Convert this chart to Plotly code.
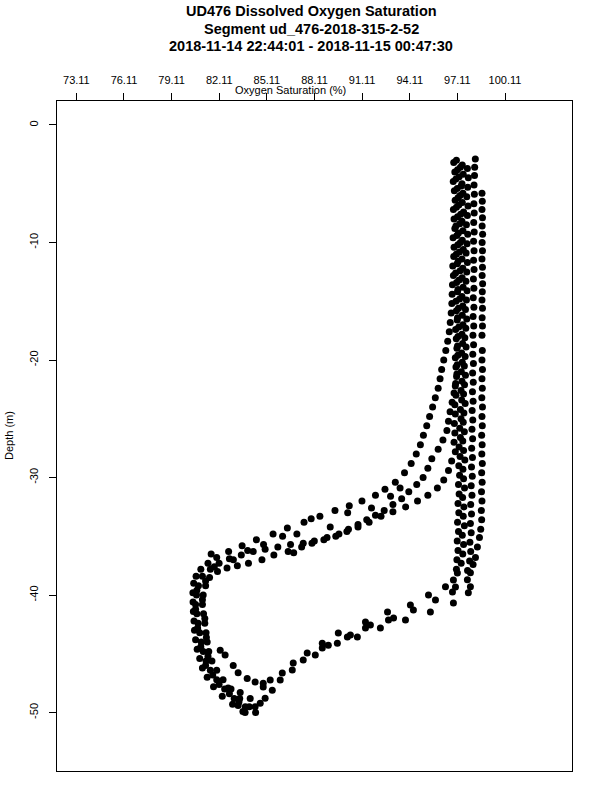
import plotly.graph_objects as go

# ---------------- data (depth m, oxygen saturation %) ----------------
x_tick_vals = [73.11, 76.11, 79.11, 82.11, 85.11, 88.11, 91.11, 94.11, 97.11, 100.11]
x_tick_text = ["73.11", "76.11", "79.11", "82.11", "85.11", "88.11", "91.11", "94.11", "97.11", "100.11"]
y_tick_vals = [0, -10, -20, -30, -40, -50]
y_tick_text = ["0", "-10", "-20", "-30", "-40", "-50"]

descent_a = [(-3.2, 96.88), (-4.0, 96.95), (-4.8, 96.85), (-5.6, 96.92), (-6.4, 96.97), (-7.2, 96.86),
             (-8.0, 96.90), (-8.8, 96.95), (-9.6, 96.84), (-10.4, 96.90), (-11.2, 96.88), (-12.0, 96.82),
             (-12.8, 96.86), (-13.6, 96.80), (-14.4, 96.78), (-15.2, 96.76), (-16.0, 96.72), (-16.8, 96.66),
             (-17.6, 96.60), (-18.4, 96.50), (-19.2, 96.38), (-20.0, 96.25), (-20.8, 96.12), (-21.6, 96.02),
             (-22.4, 95.90), (-23.2, 95.72), (-24.0, 95.55), (-24.8, 95.36), (-25.6, 95.18), (-26.4, 94.97),
             (-27.2, 94.78), (-28.0, 94.52), (-28.8, 94.20), (-29.6, 93.78), (-30.4, 93.20), (-31.0, 92.55),
             (-31.5, 91.95), (-32.0, 91.10), (-32.4, 90.30), (-32.8, 89.40), (-33.3, 88.45), (-33.8, 87.45),
             (-34.3, 86.40), (-34.8, 85.50), (-35.3, 84.45), (-35.8, 83.55), (-36.3, 82.70), (-36.8, 81.95),
             (-37.3, 81.40), (-37.8, 80.95), (-38.4, 80.65), (-39.0, 80.50), (-39.8, 80.45), (-40.6, 80.46),
             (-41.4, 80.48), (-42.2, 80.52), (-43.0, 80.55), (-43.8, 80.62), (-44.6, 80.72), (-45.4, 80.88),
             (-46.2, 81.05), (-47.0, 81.35), (-47.8, 81.75), (-48.6, 82.30), (-49.3, 82.95), (-49.9, 83.60)]

descent_b = [(-3.6, 97.30), (-4.4, 97.22), (-5.2, 97.35), (-6.0, 97.28), (-6.8, 97.20), (-7.6, 97.32),
             (-8.4, 97.26), (-9.2, 97.18), (-10.0, 97.30), (-10.8, 97.24), (-11.6, 97.16), (-12.4, 97.28),
             (-13.2, 97.22), (-14.0, 97.15), (-14.8, 97.25), (-15.6, 97.18), (-16.4, 97.12), (-17.2, 97.20),
             (-18.0, 97.15), (-18.8, 97.12), (-19.6, 97.14), (-20.4, 97.10), (-21.2, 97.08), (-22.0, 97.00),
             (-22.8, 96.90), (-23.6, 96.78), (-24.4, 96.65), (-25.2, 96.55), (-26.0, 96.45), (-26.8, 96.20),
             (-27.6, 95.90), (-28.4, 95.50), (-29.2, 95.25), (-30.0, 94.95), (-30.6, 94.55), (-31.2, 94.05),
             (-31.8, 93.60), (-32.3, 93.05), (-32.8, 92.50), (-33.2, 91.95), (-33.6, 91.40), (-34.0, 90.85),
             (-34.4, 90.25), (-34.8, 89.65), (-35.1, 88.90), (-35.4, 88.10), (-35.6, 87.40), (-35.7, 86.60),
             (-35.9, 85.80), (-36.1, 85.00), (-36.3, 84.25), (-36.6, 83.50), (-36.9, 82.75), (-37.3, 82.10),
             (-37.8, 81.55), (-38.4, 81.05), (-39.2, 80.80), (-40.0, 80.68), (-40.8, 80.62), (-41.6, 80.70),
             (-42.4, 80.78), (-43.2, 80.88), (-44.0, 80.98), (-44.8, 81.10), (-45.6, 81.28), (-46.4, 81.55),
             (-47.2, 81.95), (-48.0, 82.45), (-48.8, 83.05), (-49.5, 83.75)]

descent_c = [(-3.0, 97.05), (-3.8, 97.12), (-4.6, 97.02), (-5.4, 97.10), (-6.2, 97.15), (-7.0, 97.05),
             (-7.8, 97.12), (-8.6, 97.02), (-9.4, 97.08), (-10.2, 97.14), (-11.0, 97.04), (-11.8, 97.10),
             (-12.6, 97.00), (-13.4, 97.06), (-14.2, 97.12), (-15.0, 97.02), (-15.8, 97.05), (-16.6, 97.10),
             (-17.4, 97.00), (-18.2, 97.04), (-19.0, 97.08), (-19.8, 96.98), (-20.6, 97.02), (-21.4, 97.06),
             (-22.2, 96.98), (-23.0, 97.02), (-23.8, 96.95), (-24.6, 96.98), (-25.4, 96.92), (-26.2, 96.95),
             (-27.0, 96.90), (-27.8, 96.98), (-28.6, 96.75), (-29.4, 96.55), (-30.2, 96.25), (-30.9, 95.85),
             (-31.5, 95.25), (-32.0, 94.60), (-32.5, 93.85), (-32.9, 93.05), (-33.3, 92.30), (-33.8, 91.55),
             (-34.2, 90.85), (-34.6, 90.15), (-35.0, 89.45), (-35.3, 88.70), (-35.6, 87.95), (-35.9, 87.30),
             (-36.3, 86.45), (-36.6, 85.55), (-37.0, 84.80), (-37.3, 83.95), (-37.5, 83.25), (-37.7, 82.60),
             (-38.0, 82.00), (-38.5, 81.50), (-39.2, 81.25), (-40.0, 81.10), (-40.8, 81.05), (-41.6, 81.12),
             (-42.4, 81.20), (-43.2, 81.28), (-44.0, 81.35), (-44.8, 81.45), (-45.6, 81.65), (-46.4, 81.95),
             (-47.2, 82.35), (-48.0, 82.85), (-48.8, 83.40), (-49.5, 84.00), (-50.0, 84.40)]

diagonal_scatter = [(-30.9, 93.50), (-31.6, 92.90), (-32.6, 91.70), (-33.0, 90.20), (-34.2, 89.10),
                    (-33.5, 87.90), (-34.8, 87.00), (-35.0, 86.10), (-36.4, 86.80), (-35.7, 84.90),
                    (-36.2, 83.90), (-37.0, 83.00), (-36.5, 81.60), (-37.6, 81.80)]

cluster_extra = [(-38.8, 81.25), (-39.6, 80.70), (-40.4, 81.05), (-41.2, 80.62), (-42.0, 81.20),
                 (-42.8, 80.75), (-43.6, 81.30), (-44.4, 80.95), (-45.2, 81.40), (-46.0, 81.25),
                 (-46.8, 81.70), (-47.6, 82.10), (-48.4, 82.75), (-49.1, 83.35)]

bottom_points = [(-47.9, 82.67), (-48.3, 83.43), (-48.8, 84.06), (-49.4, 83.30), (-49.5, 84.37),
                 (-50.0, 83.74), (-49.2, 84.69), (-44.7, 82.17), (-45.1, 82.48), (-46.0, 82.99),
                 (-46.6, 83.30), (-47.4, 84.37), (-47.5, 84.88), (-47.1, 83.87)]

ascent_diagonal = [(-48.77, 85.00), (-47.83, 84.88), (-48.09, 85.45), (-47.23, 85.32), (-46.64, 86.08),
                   (-47.23, 85.95), (-46.38, 86.71), (-45.79, 86.77), (-45.53, 87.40), (-44.94, 87.65),
                   (-45.11, 88.16), (-44.51, 88.60), (-44.09, 88.60), (-44.26, 88.98), (-44.09, 89.55),
                   (-43.23, 89.61), (-43.57, 90.18), (-43.40, 90.37), (-43.57, 90.81), (-42.81, 91.32),
                   (-42.30, 91.32), (-42.55, 91.63), (-42.81, 92.26), (-41.45, 92.71), (-42.13, 92.77),
                   (-41.96, 93.09), (-42.13, 93.84), (-40.85, 94.15), (-41.28, 94.34), (-41.45, 95.41),
                   (-40.00, 95.29), (-40.43, 95.73), (-40.68, 96.86), (-39.74, 96.80), (-39.32, 96.99),
                   (-38.72, 96.86), (-38.13, 97.11), (-39.30, 96.36)]

band_fill = [(-3.4, 97.42), (-4.2, 97.48), (-5.0, 97.40), (-5.8, 97.46), (-6.6, 97.42), (-7.4, 97.50),
             (-8.2, 97.40), (-9.0, 97.46), (-9.8, 97.42), (-10.6, 97.48), (-11.4, 97.40), (-12.2, 97.45),
             (-13.0, 97.41), (-13.8, 97.47), (-14.6, 97.40), (-15.4, 97.45), (-16.2, 97.42), (-17.0, 97.46),
             (-17.8, 97.40), (-18.6, 97.44), (-19.4, 97.38), (-20.2, 97.42), (-21.0, 97.36), (-21.8, 97.40),
             (-22.6, 97.34), (-23.4, 97.38), (-24.2, 97.30), (-25.0, 97.34), (-25.8, 97.26), (-26.6, 97.30),
             (-27.4, 97.22), (-28.2, 97.28), (-29.0, 97.20), (-29.8, 97.25), (-30.6, 97.18), (-31.4, 97.22),
             (-32.2, 97.15), (-33.0, 97.20), (-33.8, 97.12), (-34.6, 97.18), (-35.4, 97.10), (-36.2, 97.15),
             (-37.0, 97.08), (-37.8, 97.05)]

ascent_column_1 = [(-37.3, 97.35), (-36.5, 97.45), (-35.7, 97.50), (-34.9, 97.42), (-34.1, 97.55),
                   (-33.3, 97.48), (-32.5, 97.52), (-31.7, 97.44), (-30.9, 97.56), (-30.1, 97.50),
                   (-29.3, 97.46), (-28.5, 97.58), (-27.7, 97.50), (-26.9, 97.45), (-26.1, 97.55),
                   (-25.3, 97.48), (-24.5, 97.52), (-23.7, 97.60), (-22.9, 97.50), (-22.1, 97.56),
                   (-21.3, 97.62), (-20.5, 97.55), (-19.7, 97.60), (-18.9, 97.66), (-18.1, 97.58),
                   (-17.3, 97.64), (-16.5, 97.70), (-15.7, 97.62), (-14.9, 97.68), (-14.1, 97.72),
                   (-13.3, 97.65), (-12.5, 97.70), (-11.7, 97.74), (-10.9, 97.66), (-10.1, 97.72),
                   (-9.3, 97.76), (-8.5, 97.68), (-7.7, 97.74), (-6.9, 97.78), (-6.1, 97.70),
                   (-5.3, 97.76), (-4.5, 97.80), (-3.7, 97.74)]

ascent_column_2 = [(-37.9, 97.75), (-37.1, 97.88), (-36.3, 97.95), (-35.5, 97.90), (-34.7, 97.98),
                   (-33.9, 97.93), (-33.1, 98.00), (-32.3, 97.95), (-31.5, 98.03), (-30.7, 97.98),
                   (-29.9, 98.05), (-29.1, 98.00), (-28.3, 98.06), (-27.5, 98.01), (-26.7, 98.07),
                   (-25.9, 98.03), (-25.1, 98.08), (-24.3, 98.04), (-23.5, 98.10), (-22.7, 98.06),
                   (-21.9, 98.11), (-21.1, 98.07), (-20.3, 98.12), (-19.5, 98.08), (-18.7, 98.13),
                   (-17.9, 98.09), (-17.1, 98.14), (-16.3, 98.10), (-15.5, 98.15), (-14.7, 98.11),
                   (-13.9, 98.15), (-13.1, 98.12), (-12.3, 98.16), (-11.5, 98.13), (-10.7, 98.16),
                   (-9.9, 98.13), (-9.1, 98.17), (-8.3, 98.14), (-7.5, 98.17), (-6.7, 98.15),
                   (-5.9, 98.18), (-5.1, 98.16), (-4.3, 98.19), (-3.6, 98.20), (-2.9, 98.24)]

right_column = [(-39.8, 97.80), (-39.3, 97.93), (-38.7, 97.74), (-38.1, 97.93), (-37.4, 98.10),
                (-36.8, 98.25), (-35.9, 98.37), (-35.1, 98.50), (-34.4, 98.58), (-33.6, 98.64),
                (-32.8, 98.62), (-32.0, 98.66), (-31.2, 98.63), (-30.4, 98.67), (-29.6, 98.64),
                (-28.8, 98.68), (-28.0, 98.65), (-27.2, 98.67), (-26.4, 98.64), (-25.6, 98.68),
                (-24.8, 98.66), (-24.0, 98.69), (-23.2, 98.65), (-22.4, 98.68), (-21.6, 98.66),
                (-20.8, 98.69), (-20.0, 98.66), (-19.2, 98.68), (-17.9, 98.66), (-17.1, 98.69),
                (-16.4, 98.67), (-15.6, 98.69), (-14.9, 98.66), (-14.2, 98.68), (-13.5, 98.70),
                (-12.8, 98.67), (-12.1, 98.69), (-11.4, 98.66), (-10.7, 98.69), (-10.0, 98.67),
                (-9.3, 98.70), (-8.6, 98.67), (-7.9, 98.69), (-7.2, 98.66), (-6.5, 98.68), (-5.8, 98.66)]

groups = [descent_a, descent_b, descent_c, diagonal_scatter, cluster_extra, bottom_points,
          ascent_diagonal, band_fill, ascent_column_1, ascent_column_2, right_column]

# ---------------- figure ----------------
FONT = "Liberation Sans, Arial, Helvetica, sans-serif"
fig = go.Figure()
for g in groups:
    fig.add_trace(go.Scatter(
        x=[p[1] for p in g], y=[p[0] for p in g], mode="markers",
        marker=dict(size=7, color="black", line=dict(width=0)),
        showlegend=False, hoverinfo="skip"))

L, R, T, B = 57, 28, 101, 29
fig.update_layout(
    width=600, height=800, margin=dict(l=L, r=R, t=T, b=B, autoexpand=False),
    paper_bgcolor="white", plot_bgcolor="white",
    font=dict(family=FONT, size=11, color="black"),
    hovermode=False,
)
fig.update_xaxes(range=[71.89, 104.33], side="top", showgrid=False, zeroline=False,
                 showline=True, linecolor="black", linewidth=1, mirror=True,
                 ticks="outside", ticklen=7, tickwidth=1, tickcolor="black",
                 tickvals=x_tick_vals, ticktext=x_tick_text, ticklabelstandoff=5,
                 tickfont=dict(size=11, family=FONT), automargin=False)
fig.update_yaxes(range=[-54.97, 2.04], showgrid=False, zeroline=False,
                 showline=True, linecolor="black", linewidth=1, mirror=True,
                 ticks="outside", ticklen=7, tickwidth=1, tickcolor="black",
                 tickvals=y_tick_vals, ticktext=y_tick_text, tickangle=-90,
                 ticklabelstandoff=7, tickfont=dict(size=11, family=FONT), automargin=False)

H = 800 - T - B
W = 600 - L - R
def py(ypx):
    return (800 - B - ypx) / H
def px(xpx):
    return (xpx - L) / W

titles = ["UD476 Dissolved Oxygen Saturation",
          "Segment ud_476-2018-315-2-52",
          "2018-11-14 22:44:01 - 2018-11-15 00:47:30"]
for i, t in enumerate(titles):
    fig.add_annotation(text="<b>%s</b>" % t, xref="paper", yref="paper",
                       x=px(311), y=py(11 + 17.5 * i), xanchor="center", yanchor="middle",
                       showarrow=False, font=dict(size=14.5, family=FONT, color="black"))
fig.add_annotation(text="Oxygen Saturation (%)", xref="paper", yref="paper",
                   x=px(290), y=py(90), xanchor="center", yanchor="middle",
                   showarrow=False, font=dict(size=11, family=FONT, color="black"))
fig.add_annotation(text="Depth (m)", xref="paper", yref="paper",
                   x=px(9), y=py(436), xanchor="center", yanchor="middle", textangle=-90,
                   showarrow=False, font=dict(size=11, family=FONT, color="black"))

fig.write_html("out.html", config={"displayModeBar": False, "staticPlot": True},
               post_script="document.body.style.margin='0px';document.body.style.padding='0px';")
